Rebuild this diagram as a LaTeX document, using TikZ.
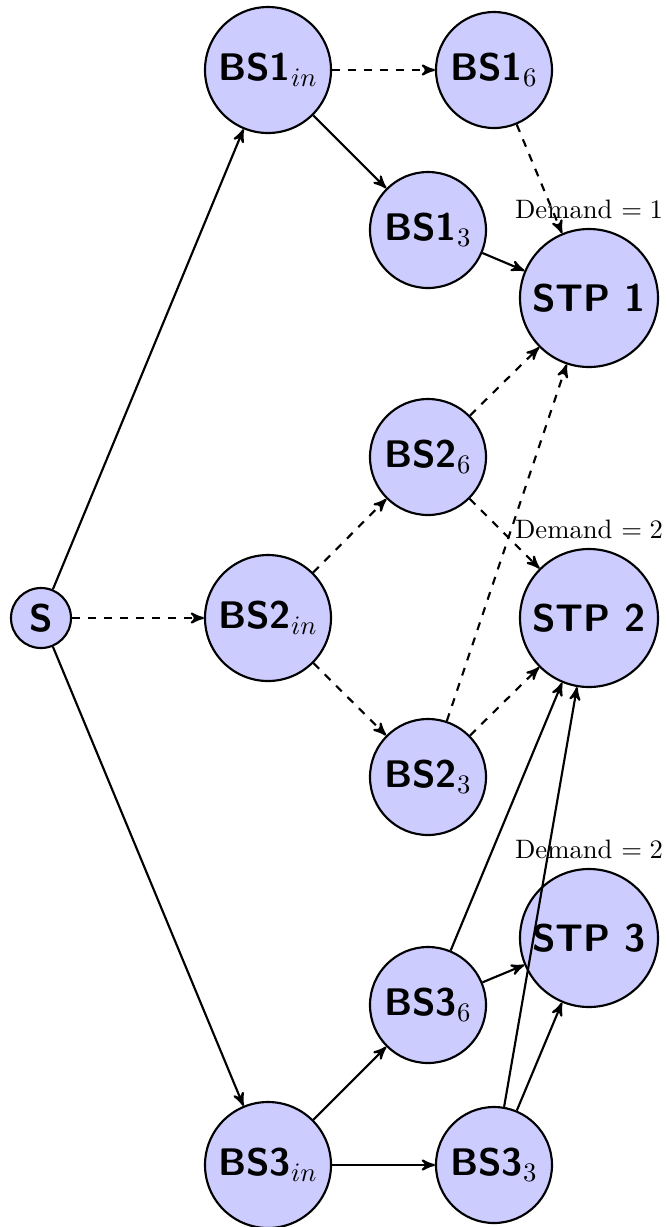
\documentclass[tikz,border=0pt]{standalone}
\usetikzlibrary{arrows}
\begin{document}
\begin{tikzpicture}[x=0.375pt,y=-0.375pt,>=stealth',
  every node/.style={font=\Large\sffamily\bfseries},
  station/.style={circle,draw,thick,fill=blue!20,inner sep=0pt},
  src/.style={station,minimum size=22.5pt},
  inbox/.style={station,minimum size=47.25pt},
  bsbox/.style={station,minimum size=43.5pt},
  stpbox/.style={station,minimum size=51.75pt},
  demand/.style={font=\normalsize\rmfamily\mdseries},
  flow/.style={->,thick},
  opt/.style={->,thick,dashed}]
\useasboundingbox (0,0) rectangle (667,1227);
% source and inbound stations
\node[src] (s) at (41,618) {S};
\node[inbox] (b1in) at (268,70) {BS1$_{in}$};
\node[inbox] (b2in) at (268,618) {BS2$_{in}$};
\node[inbox] (b3in) at (268,1165) {BS3$_{in}$};
% intermediate stations
\node[bsbox] (b16) at (494,70) {BS1$_6$};
\node[bsbox] (b13) at (428,230) {BS1$_3$};
\node[bsbox] (b26) at (428,457) {BS2$_6$};
\node[bsbox] (b23) at (428,777) {BS2$_3$};
\node[bsbox] (b36) at (428,1005) {BS3$_6$};
\node[bsbox] (b33) at (494,1165) {BS3$_3$};
% sinks with their demands
\node[stpbox,label={[demand]above:Demand $=1$}] (t1) at (589,298) {STP 1};
\node[stpbox,label={[demand]above:Demand $=2$}] (t2) at (589,618) {STP 2};
\node[stpbox,label={[demand]above:Demand $=2$}] (t3) at (589,938) {STP 3};
% arcs
\draw[flow] (s) -- (b1in);
\draw[opt] (s) -- (b2in);
\draw[flow] (s) -- (b3in);
\draw[opt] (b1in) -- (b16);
\draw[flow] (b1in) -- (b13);
\draw[opt] (b16) -- (t1);
\draw[flow] (b13) -- (t1);
\draw[opt] (b2in) -- (b26);
\draw[opt] (b2in) -- (b23);
\draw[opt] (b26) -- (t1);
\draw[opt] (b26) -- (t2);
\draw[opt] (b23) -- (t1);
\draw[opt] (b23) -- (t2);
\draw[flow] (b3in) -- (b36);
\draw[flow] (b3in) -- (b33);
\draw[flow] (b36) -- (t2);
\draw[flow] (b36) -- (t3);
\draw[flow] (b33) -- (t2);
\draw[flow] (b33) -- (t3);
\end{tikzpicture}
\end{document}
